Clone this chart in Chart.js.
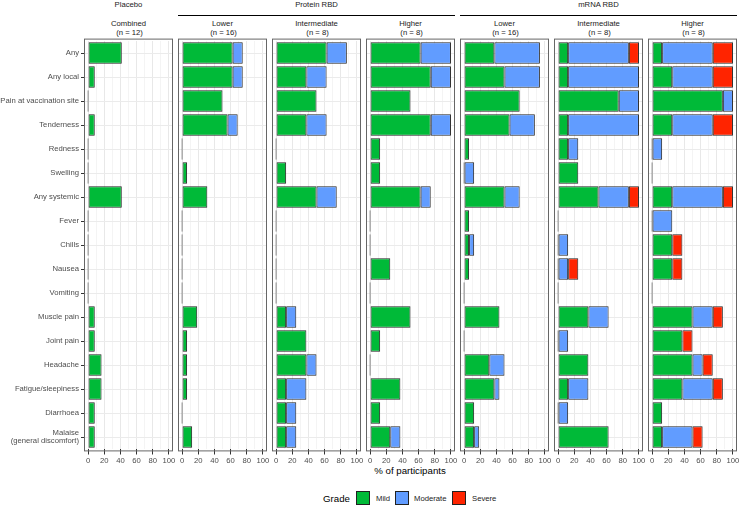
<!DOCTYPE html>
<html>
<head>
<meta charset="utf-8">
<script src="https://cdn.jsdelivr.net/npm/chart.js@4.4.0/dist/chart.umd.min.js"></script>
<style>
body{margin:0;background:#fff;width:740px;height:507px;position:relative;overflow:hidden;font-family:"Liberation Sans",Arial,sans-serif;}
.pnl{position:absolute;top:20px;height:450px;}
.txt{position:absolute;white-space:nowrap;text-align:center;color:#1a1a1a;font-size:7.7px;line-height:9px;}
.hline{position:absolute;height:1px;background:#000;top:15px;}
.key{position:absolute;top:491px;width:12px;height:12px;border:1px solid #222;}
</style>
</head>
<body>
<div class="hline" style="left:178px;width:277px"></div>
<div class="hline" style="left:460px;width:277px"></div>
<div id="titles"></div>
<div class="txt" style="left:330px;width:160px;top:465px;font-size:9.7px;line-height:12px;color:#000">% of participants</div>
<div class="txt" style="left:323px;top:493px;font-size:9.7px;line-height:12px;color:#000;text-align:left">Grade</div>
<div class="key" style="left:356px;background:#00BA38"></div>
<div class="txt" style="left:376px;top:494px;text-align:left">Mild</div>
<div class="key" style="left:395px;background:#619CFF"></div>
<div class="txt" style="left:414px;top:494px;text-align:left">Moderate</div>
<div class="key" style="left:452px;background:#FF2400"></div>
<div class="txt" style="left:472px;top:494px;text-align:left">Severe</div>
<script>
const categories = ['Any','Any local','Pain at vaccination site','Tenderness','Redness','Swelling','Any systemic','Fever','Chills','Nausea','Vomiting','Muscle pain','Joint pain','Headache','Fatigue/sleepiness','Diarrhoea',['Malaise','(general discomfort)']];
const groups = ['Placebo','Protein RBD','mRNA RBD'];
const panelTitles = ['Combined','Lower','Intermediate','Higher','Lower','Intermediate','Higher'];
const panelN = [12,16,8,8,16,8,8];
const xTicks = [0,10,20,30,40,50,60,70,80,90,100];

const placeboMild = [41.7,8.3,0,8.3,0,0,41.7,0,0,0,0,8.3,8.3,16.7,16.7,8.3,8.3];
const placeboMod  = [0,0,0,0,0,0,0,0,0,0,0,0,0,0,0,0,0];
const placeboSev  = [0,0,0,0,0,0,0,0,0,0,0,0,0,0,0,0,0];

const protLowMild = [62.5,62.5,50,56.25,0,6.25,31.25,0,0,0,0,18.75,6.25,6.25,6.25,0,12.5];
const protLowMod  = [12.5,12.5,0,12.5,0,0,0,0,0,0,0,0,0,0,0,0,0];
const protLowSev  = [0,0,0,0,0,0,0,0,0,0,0,0,0,0,0,0,0];

const protIntMild = [62.5,37.5,50,37.5,0,12.5,50,0,0,0,0,12.5,37.5,37.5,12.5,12.5,12.5];
const protIntMod  = [25,25,0,25,0,0,25,0,0,0,0,12.5,0,12.5,25,12.5,12.5];
const protIntSev  = [0,0,0,0,0,0,0,0,0,0,0,0,0,0,0,0,0];

const protHighMild = [62.5,75,50,75,12.5,12.5,62.5,0,0,25,0,50,12.5,0,37.5,12.5,25];
const protHighMod  = [37.5,25,0,25,0,0,12.5,0,0,0,0,0,0,0,0,0,12.5];
const protHighSev  = [0,0,0,0,0,0,0,0,0,0,0,0,0,0,0,0,0];

const mrnaLowMild = [37.5,50,68.75,56.25,6.25,0,50,6.25,6.25,6.25,0,43.75,0,31.25,37.5,12.5,12.5];
const mrnaLowMod  = [56.25,43.75,0,31.25,0,12.5,18.75,0,6.25,0,0,0,0,18.75,6.25,0,6.25];
const mrnaLowSev  = [0,0,0,0,0,0,0,0,0,0,0,0,0,0,0,0,0];

const mrnaIntMild = [12.5,12.5,75,12.5,12.5,25,50,0,0,0,0,37.5,0,37.5,12.5,0,62.5];
const mrnaIntMod  = [75,87.5,25,87.5,12.5,0,37.5,0,12.5,12.5,0,25,12.5,0,25,12.5,0];
const mrnaIntSev  = [12.5,0,0,0,0,0,12.5,0,0,12.5,0,0,0,0,0,0,0];

const mrnaHighMild = [12.5,25,87.5,25,0,0,25,0,25,25,0,50,37.5,50,37.5,12.5,12.5];
const mrnaHighMod  = [62.5,50,12.5,50,12.5,0,62.5,25,0,0,0,25,0,12.5,37.5,0,37.5];
const mrnaHighSev  = [25,25,0,25,0,0,12.5,0,12.5,12.5,0,12.5,12.5,12.5,12.5,0,12.5];

const panelData = [
  [placeboMild,placeboMod,placeboSev],
  [protLowMild,protLowMod,protLowSev],
  [protIntMild,protIntMod,protIntSev],
  [protHighMild,protHighMod,protHighSev],
  [mrnaLowMild,mrnaLowMod,mrnaLowSev],
  [mrnaIntMild,mrnaIntMod,mrnaIntSev],
  [mrnaHighMild,mrnaHighMod,mrnaHighSev]
];

const green = '#00BA38', blue = '#619CFF', red = '#FF2400';
const fam = '"Liberation Sans", Arial, sans-serif';
const panelW = 89;
const panelLeft = [84,178,272,366,460,554,648];

// grey frame round each facet (ggplot style, a bit taller than the band area)
const panelBorder = {
  id:'panelBorder',
  afterDraw(chart){
    const a = chart.chartArea, ctx = chart.ctx;
    const ext = (a.bottom - a.top)/17*0.1;
    ctx.save();
    ctx.strokeStyle = '#666';
    ctx.lineWidth = 1;
    ctx.strokeRect(a.left+0.5, a.top-ext+0.5, a.right-a.left-1, a.bottom-a.top+2*ext-1);
    ctx.restore();
  }
};

function addText(txt, cx, top, w){
  const d = document.createElement('div');
  d.className = 'txt';
  d.style.left = (cx - w/2)+'px';
  d.style.width = w+'px';
  d.style.top = top+'px';
  d.innerHTML = txt;
  document.getElementById('titles').appendChild(d);
}

addText(groups[0], panelLeft[0]+panelW/2, 0, 80);
addText(groups[1], (178+455)/2, 0, 100);
addText(groups[2], (460+737)/2, 0, 100);
for(let i=0;i<7;i++){
  addText(panelTitles[i]+'<br>&nbsp;(n = '+panelN[i]+')', panelLeft[i]+panelW/2, 19, 88);
}

function drawPanel(i){
  const first = i===0;
  const left = first ? 0 : panelLeft[i]-8;
  const width = first ? panelLeft[0]+panelW+8 : panelW+16;
  const div = document.createElement('div');
  div.className = 'pnl';
  div.style.left = left+'px';
  div.style.width = width+'px';
  const can = document.createElement('canvas');
  can.width = width; can.height = 450;
  can.style.width = width+'px'; can.style.height = '450px';
  div.appendChild(can);
  document.body.appendChild(div);

  const d = panelData[i];
  new Chart(can, {
    type:'bar',
    data:{
      labels:categories,
      datasets:[
        {label:'Mild', data:d[0], backgroundColor:green, minBarLength:1},
        {label:'Moderate', data:d[1], backgroundColor:blue},
        {label:'Severe', data:d[2], backgroundColor:red}
      ]
    },
    options:{
      indexAxis:'y',
      responsive:false,
      maintainAspectRatio:false,
      animation:false,
      layout:{padding:{left:first?0:8, right:8, top:21, bottom:1}},
      datasets:{bar:{borderColor:'#222', borderWidth:1, borderSkipped:false, categoryPercentage:0.9, barPercentage:1}},
      plugins:{legend:{display:false}, tooltip:{enabled:false}},
      scales:{
        x:{
          stacked:true, min:-5, max:105,
          afterBuildTicks: s => { s.ticks = xTicks.map(v => ({value:v})); },
          afterFit: s => { s.height = 20; },
          border:{display:false},
          grid:{
            color: c => (c.tick && c.tick.value%20===0) ? '#e8e8e8' : '#f4f4f4',
            tickColor: c => (c.tick && c.tick.value%20===0) ? '#333' : 'rgba(0,0,0,0)',
            tickLength:5.5
          },
          ticks:{autoSkip:false, maxRotation:0, padding:2, color:'#4d4d4d', font:{size:7.7, family:fam},
            callback: v => v%20===0 ? v : ''}
        },
        y:{
          stacked:true,
          afterFit: s => { s.width = first ? 84 : 0; },
          border:{display:false},
          grid:{offset:false, color:'#ebebeb', drawTicks:first, tickLength:3, tickColor:'#333'},
          ticks:{display:first, padding:2, color:'#4d4d4d', font:{size:7.7, family:fam, lineHeight:1.1}}
        }
      }
    },
    plugins:[panelBorder]
  });
}

for(let i=0;i<7;i++) drawPanel(i);
</script>
</body>
</html>
